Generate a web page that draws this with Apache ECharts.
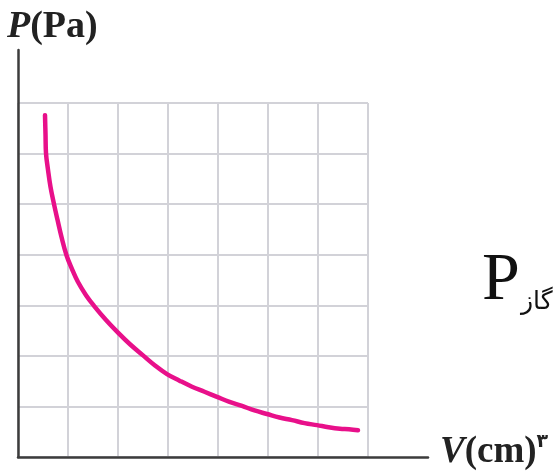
<!DOCTYPE html>
<html>
<head>
<meta charset="utf-8">
<script src="https://cdn.jsdelivr.net/npm/echarts@6/dist/echarts.min.js"></script>
<style>html,body{margin:0;padding:0;background:#fff}#c{width:558px;height:475px}</style>
</head>
<body>
<div id="c"></div>
<script>
// Curve (x in grid cells of volume, y in grid cells of pressure)
const curveV = [0.54, 0.55, 0.56, 0.60, 0.65, 0.72, 0.79, 0.87, 0.97, 1.07, 1.20, 1.36, 1.52, 1.76, 2.00, 2.24, 2.50, 2.74, 2.98, 3.23, 3.48, 3.73, 3.98, 4.23, 4.48, 4.73, 4.98, 5.23, 5.48, 5.73, 5.98, 6.21, 6.44, 6.62, 6.80];
const curveP = [6.76, 6.39, 6.01, 5.68, 5.34, 5.00, 4.69, 4.35, 3.99, 3.74, 3.46, 3.20, 2.99, 2.71, 2.46, 2.23, 2.01, 1.81, 1.64, 1.51, 1.39, 1.29, 1.19, 1.09, 1.01, 0.92, 0.85, 0.78, 0.73, 0.67, 0.63, 0.59, 0.56, 0.55, 0.53];
const gridCount = 7;
const yTitle = ['P', '(Pa)'];
const xTitle = ['V', '(cm)', '۳'];
const gasLabel = ['P', 'گاز'];

const chart = echarts.init(document.getElementById('c'), null, {renderer: 'canvas'});
const axisCol = '#3c3c3c';
const gridCol = '#d2d2d8';
chart.setOption({
  animation: false,
  backgroundColor: '#fff',
  grid: [
    {left: 18, top: 50, right: 130, bottom: 18},
    {left: 18, top: 103, width: 350, height: 354}
  ],
  xAxis: [
    {gridIndex: 0, type: 'value', min: 0, max: 1, z: 10,
     axisLine: {show: true, lineStyle: {color: axisCol, width: 2.5}},
     axisTick: {show: false}, axisLabel: {show: false}, splitLine: {show: false}},
    {gridIndex: 1, type: 'value', min: 0, max: gridCount, interval: 1,
     axisLine: {show: false}, axisTick: {show: false}, axisLabel: {show: false},
     splitLine: {show: true, lineStyle: {color: gridCol, width: 2}}}
  ],
  yAxis: [
    {gridIndex: 0, type: 'value', min: 0, max: 1, z: 10,
     axisLine: {show: true, lineStyle: {color: axisCol, width: 2.5}},
     axisTick: {show: false}, axisLabel: {show: false}, splitLine: {show: false}},
    {gridIndex: 1, type: 'value', min: 0, max: gridCount, interval: 1,
     axisLine: {show: false}, axisTick: {show: false}, axisLabel: {show: false},
     splitLine: {show: true, lineStyle: {color: gridCol, width: 2}}}
  ],
  series: [{
    type: 'line', xAxisIndex: 1, yAxisIndex: 1, smooth: 0.4, showSymbol: false,
    data: curveV.map((v, i) => [v, curveP[i]]),
    lineStyle: {color: '#e8108a', width: 4.5, cap: 'round', join: 'round'}, z: 5
  }],
  graphic: [
    {type: 'text', left: 7, top: 8, z: 20, style: {
      text: '{i|' + yTitle[0] + '}{b|' + yTitle[1] + '}',
      rich: {
        i: {fontFamily: 'Liberation Serif', fontStyle: 'italic', fontWeight: 'bold', fontSize: 38, fill: '#222'},
        b: {fontFamily: 'Liberation Serif', fontWeight: 'bold', fontSize: 38, fill: '#222'}
      }}},
    {type: 'text', left: 440, top: 433, z: 20, style: {
      text: '{i|' + xTitle[0] + '}{b|' + xTitle[1] + '}{s|' + xTitle[2] + '}',
      rich: {
        i: {fontFamily: 'Liberation Serif', fontStyle: 'italic', fontWeight: 'bold', fontSize: 37, fill: '#222'},
        b: {fontFamily: 'Liberation Serif', fontWeight: 'bold', fontSize: 37, fill: '#222'},
        s: {fontFamily: 'DejaVu Sans', fontWeight: 'bold', fontSize: 19, fill: '#222', verticalAlign: 'top', padding: [0, 0, 20, 0]}
      }}},
    {type: 'text', left: 482, top: 247, z: 20, style: {
      text: gasLabel[0], fontFamily: 'Liberation Serif', fontSize: 68, fill: '#111'}},
    {type: 'text', left: 521, top: 290, z: 20, style: {
      text: gasLabel[1], fontFamily: 'DejaVu Sans', fontSize: 25, fill: '#111'}}
  ]
});
</script>
</body>
</html>
